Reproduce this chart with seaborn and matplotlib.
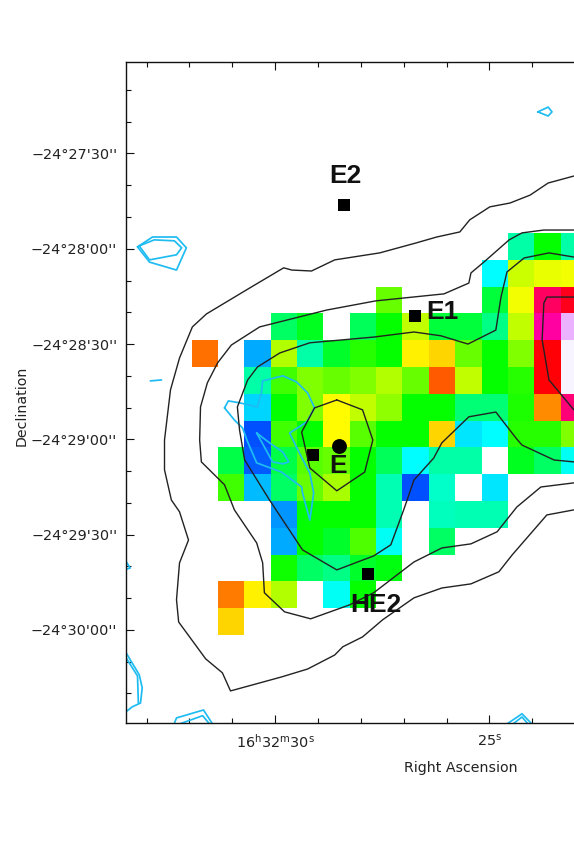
import numpy as np
import seaborn as sns
import matplotlib.pyplot as plt
from matplotlib.colors import LinearSegmentedColormap
from matplotlib.ticker import FixedLocator, FixedFormatter, MultipleLocator

# map values, rows north to south, columns east to west (nan = no data)
n = np.nan
row00 = [n, n, n, n, n, n, n, n, n, n, n, n, 38, 50, 38]
row01 = [n, n, n, n, n, n, n, n, n, n, n, 30, 66, 68, 69]
row02 = [n, n, n, n, n, n, n, 58, n, n, n, 46, 69, 93, 91]
row03 = [n, n, n, 43, 48, n, 44, 50, 65, 46, 46, 41, 65, 96, 99]
row04 = [80, n, 20, 64, 38, 47, 53, 50, 71, 73, 58, 50, 60, 90, 99.8]
row05 = [n, n, 38, 55, 60, 58, 60, 64, 58, 82, 65, 50, 53, 90, 100]
row06 = [n, n, 25, 50, 60, 70, 65, 61, 50, 50, 42, 42, 52, 78, 94]
row07 = [n, n, 8, 55, 50, 70, 57, 50, 50, 73, 27, 30, 53, 53, 60]
row08 = [n, 45, 9, 45, 57, 58, 50, 44, 30, 38, 38, n, 48, 43, 31]
row09 = [n, 55, 22, 43, 58, 63, 50, 37, 8, 35, n, 27, n, n, n]
row10 = [n, n, n, 17, 50, 50, 50, 37, n, 36, 37, 37, n, n, n]
row11 = [n, n, n, 20, 50, 47, 56, 31, n, 43, n, n, n, n, n]
row12 = [n, n, n, 51, 43, 41, 47, 49, n, n, n, n, n, n, n]
row13 = [n, 79, 71, 64, n, 31, 50, n, n, n, n, n, n, n, n]
row14 = [n, 73, n, n, n, n, n, n, n, n, n, n, n, n, n]
map_rows = [row00, row01, row02, row03, row04, row05, row06, row07,
            row08, row09, row10, row11, row12, row13, row14]

# map grid on the sky: RA seconds of 16h32m, Dec arcsec south of -24 deg
grid_ra0 = 31.944
grid_dec0 = 1675.0
cell_ra = 0.6145
cell_dec = 8.44

# black contours
outer_ra = [23.03, 23.63, 24.05, 24.52, 24.99, 25.46, 25.69, 26.23, 26.72, 27.56, 28.61,
            29.15, 29.61, 29.80, 30.55, 31.60, 31.93, 32.23, 32.44, 32.58, 32.58, 32.42,
            32.23, 32.02, 32.23, 32.30, 32.25, 31.62, 31.23, 31.04, 29.85, 29.24, 28.61,
            28.42, 27.96, 27.49, 26.76, 26.11, 25.43, 24.78, 24.47, 23.66, 23.03]
outer_dec = [1657.1, 1659.3, 1663.1, 1665.6, 1666.8, 1670.9, 1674.7, 1676.3, 1678.2, 1681.3, 1683.5,
             1687.0, 1686.7, 1686.0, 1692.0, 1700.5, 1704.6, 1714.4, 1724.4, 1740.2, 1749.6, 1759.1,
             1762.8, 1771.7, 1778.9, 1790.5, 1797.5, 1809.1, 1813.5, 1819.2, 1814.8, 1812.3, 1807.9,
             1805.3, 1802.2, 1796.8, 1789.9, 1786.8, 1785.5, 1781.7, 1776.4, 1763.8, 1762.2]
mid_ra = [23.03, 23.73, 24.24, 24.54, 25.13, 25.43, 25.48, 26.06, 27.65, 28.80, 30.36,
          31.02, 31.34, 31.58, 31.74, 31.76, 31.72, 31.18, 30.95, 30.43, 30.29, 30.25,
          29.78, 29.17, 28.26, 27.70, 26.76, 26.11, 25.43, 24.82, 24.36, 23.80, 23.03]
mid_dec = [1674.1, 1674.1, 1675.0, 1677.2, 1684.2, 1687.6, 1690.8, 1694.2, 1696.4, 1699.3, 1704.6,
           1710.3, 1715.9, 1722.2, 1729.8, 1740.2, 1747.1, 1754.3, 1762.2, 1772.6, 1778.9, 1788.3,
           1794.3, 1796.5, 1792.1, 1788.3, 1778.6, 1774.2, 1772.9, 1769.1, 1761.3, 1755.0, 1753.7]
inner_ra = [23.03, 23.61, 24.19, 24.59, 24.73, 24.85, 25.50, 26.13, 26.76, 27.70, 29.19, 29.89,
            30.41, 30.64, 30.88, 30.83, 30.71, 30.13, 29.36, 28.56, 27.70, 27.30, 27.00, 26.76,
            26.30, 26.11, 25.48, 24.85, 24.38, 24.24, 23.49, 23.03]
inner_dec = [1682.6, 1681.3, 1682.9, 1687.3, 1695.2, 1705.6, 1710.0, 1707.4, 1706.2, 1707.8, 1709.6, 1712.8,
             1717.2, 1721.3, 1729.8, 1737.0, 1746.5, 1759.1, 1774.8, 1781.1, 1776.7, 1773.2, 1762.2, 1752.8,
             1745.9, 1741.1, 1732.9, 1731.4, 1739.6, 1741.8, 1746.5, 1747.1]
core_ra = [28.56, 29.08, 29.38, 29.19, 28.56, 27.91, 27.72, 27.96, 28.56]
core_dec = [1727.6, 1730.1, 1737.7, 1749.0, 1756.2, 1750.3, 1740.2, 1730.7, 1727.6]
peak_ra = [23.03, 23.66, 23.73, 23.77, 23.61, 23.03]
peak_dec = [1695.2, 1695.2, 1697.1, 1708.7, 1721.3, 1730.7]
black_contours = [(outer_ra, outer_dec), (mid_ra, mid_dec), (inner_ra, inner_dec),
                  (core_ra, core_dec), (peak_ra, peak_dec)]

# cyan contours
blob1_ra = [33.21, 32.86, 32.30, 32.07, 32.30, 32.93, 33.21]
blob1_dec = [1679.4, 1676.3, 1676.3, 1679.7, 1686.7, 1684.2, 1679.4]
blob2_ra = [33.17, 32.82, 32.35, 32.18, 32.30, 32.93, 33.17]
blob2_dec = [1679.1, 1677.2, 1677.5, 1679.7, 1681.9, 1683.5, 1679.1]
dash_ra = [32.91, 32.65]
dash_dec = [1721.6, 1721.3]
loop_ra = [31.18, 31.09, 30.83, 30.41, 30.32, 30.29, 29.82, 29.50, 29.24, 29.08, 29.26, 29.66,
           29.47, 29.19, 29.10, 29.19, 29.36, 29.38, 29.85, 30.43, 30.64, 30.76, 30.95, 31.18]
loop_dec = [1730.1, 1727.9, 1728.5, 1729.8, 1725.4, 1721.6, 1720.0, 1721.9, 1725.4, 1730.1, 1734.5, 1738.0,
            1743.3, 1750.6, 1756.9, 1765.4, 1756.9, 1755.0, 1750.3, 1747.4, 1740.8, 1736.4, 1733.9, 1730.1]
loop2_ra = [30.43, 30.13, 29.82, 29.68, 29.82, 30.06, 30.25, 30.43]
loop2_dec = [1738.0, 1741.1, 1744.0, 1747.1, 1747.7, 1747.1, 1742.4, 1738.0]
left1_ra = [33.49, 33.17, 33.10, 33.14, 33.33, 33.54]
left1_dec = [1806.9, 1814.1, 1818.2, 1823.0, 1824.2, 1826.4]
left2_ra = [33.49, 33.21, 33.19]
left2_dec = [1808.5, 1814.5, 1823.0]
nick_ra = [33.47, 33.38, 33.52]
nick_dec = [1778.6, 1780.5, 1781.1]
low1_ra = [32.35, 32.30, 31.67, 31.46]
low1_dec = [1829.4, 1827.7, 1825.2, 1829.6]
low2_ra = [32.23, 31.69, 31.53]
low2_dec = [1829.6, 1827.0, 1829.6]
low3_ra = [24.59, 24.24, 24.01]
low3_dec = [1829.6, 1826.4, 1829.6]
low4_ra = [24.45, 24.24, 24.10]
low4_dec = [1829.6, 1827.4, 1829.6]
tiny_ra = [23.87, 23.63, 23.54, 23.63, 23.87]
tiny_dec = [1636.9, 1635.4, 1636.9, 1638.2, 1636.9]
cyan_contours = [(blob1_ra, blob1_dec), (blob2_ra, blob2_dec), (dash_ra, dash_dec),
                 (loop_ra, loop_dec), (loop2_ra, loop2_dec), (left1_ra, left1_dec),
                 (left2_ra, left2_dec), (nick_ra, nick_dec), (low1_ra, low1_dec),
                 (low2_ra, low2_dec), (low3_ra, low3_dec), (low4_ra, low4_dec),
                 (tiny_ra, tiny_dec)]

# sources
square_ra = [28.40, 26.74, 29.12, 27.84]
square_dec = [1666.2, 1701.2, 1744.9, 1782.4]
circle_ra = [28.52]
circle_dec = [1742.1]
label_names = ["E2", "E1", "E", "HE2"]
label_ra = [28.35, 26.09, 28.52, 27.65]
label_dec = [1657.1, 1699.9, 1748.4, 1792.1]

# ticks
dec_ticks = [1650, 1680, 1710, 1740, 1770, 1800]
dec_labels = ["\u221224\u00b027'30''", "\u221224\u00b028'00''", "\u221224\u00b028'30''",
              "\u221224\u00b029'00''", "\u221224\u00b029'30''", "\u221224\u00b030'00''"]
ra_ticks = [30, 25]
ra_labels = [r"$\mathregular{16^{h}32^{m}30^{s}}$", r"$\mathregular{25^{s}}$"]

# colour scale of the map
scale_pos = [0, 10, 20, 30, 40, 50, 60, 70, 80, 90, 95, 97, 99, 100]
scale_col = ["#0000ff", "#0066ff", "#00aaff", "#00ffff", "#00ff90", "#00ff00", "#80ff00",
             "#ffff00", "#ff7000", "#ff0000", "#ff0090", "#ff00b0", "#e8a0ff", "#f8f4ff"]

sns.set_style("ticks")
plt.rcParams['font.family'] = ['DejaVu Sans']
plt.rcParams['mathtext.fontset'] = 'custom'
plt.rcParams['mathtext.rm'] = 'DejaVu Sans'

W, H = 574, 846
fig = plt.figure(figsize=(W / 100, H / 100), dpi=100)
ax_map = fig.add_axes([0, 0, 1, 1])
ax = fig.add_axes([125.5 / W, 1 - 723 / H, (600 - 125.5) / W, (723 - 62) / H])
ax.set_facecolor("none")
ax.set_xlim(33.49, 22.42)
ax.set_ylim(1829.3, 1621.2)

# put the map axes on the sky position of the grid
grid = np.array(map_rows)
corners = ax.transData.transform([(grid_ra0, grid_dec0 + cell_dec * grid.shape[0]),
                                  (grid_ra0 - cell_ra * grid.shape[1], grid_dec0)])
(x0, y0), (x1, y1) = fig.transFigure.inverted().transform(corners)
ax_map.set_position([x0, y0, x1 - x0, y1 - y0])

cmap = LinearSegmentedColormap.from_list("rainbow_map", [(p / 100, c) for p, c in zip(scale_pos, scale_col)])
sns.heatmap(grid, ax=ax_map, cmap=cmap, vmin=0, vmax=100, cbar=False,
            xticklabels=False, yticklabels=False)

for ra, dec in cyan_contours:
    sns.lineplot(x=ra, y=dec, sort=False, estimator=None, color="#1fbcf2", lw=1.25, ax=ax)
for ra, dec in black_contours:
    sns.lineplot(x=ra, y=dec, sort=False, estimator=None, color="#222222", lw=1.0, ax=ax)

sns.scatterplot(x=square_ra, y=square_dec, marker="s", s=85, color="black", linewidth=0, ax=ax)
sns.scatterplot(x=circle_ra, y=circle_dec, marker="o", s=115, color="black", linewidth=0, ax=ax)
for name, ra, dec in zip(label_names, label_ra, label_dec):
    ax.text(ra, dec, name, fontsize=19, fontweight="bold", family="Liberation Sans",
            ha="center", va="center", color="#111111")

ax.set_xlim(33.49, 22.42)
ax.set_ylim(1829.3, 1621.2)
ax.set_xlabel("")
ax.set_ylabel("")
ax.xaxis.set_major_locator(FixedLocator(ra_ticks))
ax.xaxis.set_major_formatter(FixedFormatter(ra_labels))
ax.xaxis.set_minor_locator(MultipleLocator(1))
ax.yaxis.set_major_locator(FixedLocator(dec_ticks))
ax.yaxis.set_major_formatter(FixedFormatter(dec_labels))
ax.yaxis.set_minor_locator(MultipleLocator(10))
ax.tick_params(axis="both", which="both", direction="in", top=True, left=True, bottom=True,
               color="#111111", width=0.8, labelsize=10.4, labelcolor="#222222")
ax.tick_params(axis="both", which="major", length=6)
ax.tick_params(axis="both", which="minor", length=3.5)
ax.tick_params(axis="x", which="major", pad=7)
ax.tick_params(axis="y", which="major", pad=6)
for side in ["left", "top", "bottom"]:
    ax.spines[side].set_linewidth(1.0)
    ax.spines[side].set_color("#111111")
ax.spines["right"].set_visible(False)

fig.text(461 / W, 1 - 768 / H, "Right Ascension", fontsize=10.2, color="#222222", ha="center", va="center")
fig.text(22 / W, 1 - 406 / H, "Declination", fontsize=10.2, color="#222222", rotation=90, ha="center", va="center")

fig.savefig("out.png", dpi=100, facecolor="white")
